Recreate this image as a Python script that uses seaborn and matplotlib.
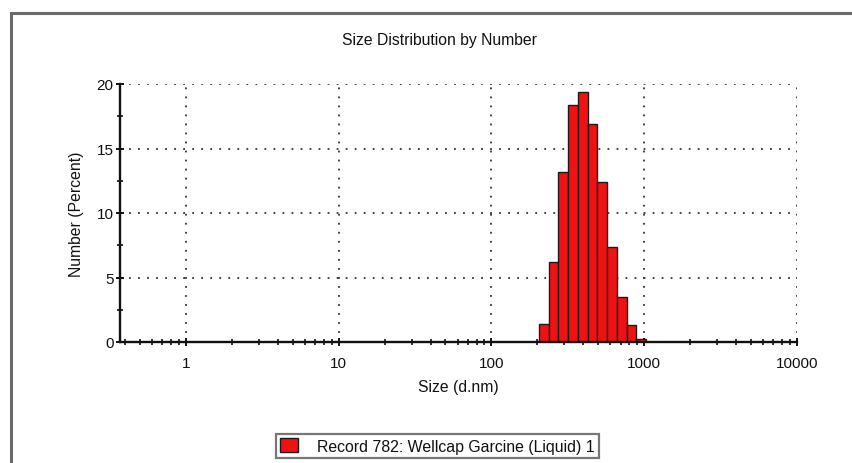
import numpy as np
import pandas as pd
import matplotlib
matplotlib.use("Agg")
import matplotlib.pyplot as plt
from matplotlib.patches import Rectangle
from matplotlib.ticker import FixedLocator, NullFormatter, MultipleLocator
import seaborn as sns

# Size classes (bin centres, d.nm) and number distribution (%)
sizes = [220.2, 255.0, 295.3, 342.0, 396.1, 458.7, 531.2, 615.1, 712.4, 825.0, 955.4]
percent = [1.4, 6.2, 13.2, 18.4, 19.4, 16.9, 12.4, 7.4, 3.5, 1.3, 0.2]
x_ticks = [1, 10, 100, 1000, 10000]
x_tick_labels = ["1", "10", "100", "1000", "10000"]
y_ticks = [0, 5, 10, 15, 20]
record_label = "Record 782: Wellcap Garcine (Liquid) 1"

df = pd.DataFrame({"size": sizes, "percent": percent})

sns.set_theme(style="white")
plt.rcParams["font.family"] = ["Liberation Sans", "DejaVu Sans"]

W, H = 853, 464
x0, x1, y_top, y_bot = 120, 797, 85, 343

fig = plt.figure(figsize=(W / 100, H / 100), dpi=100)
fig.patch.set_facecolor("white")
ax = fig.add_axes([x0 / W, 1 - y_bot / H, (x1 - x0) / W, (y_bot - y_top) / H])

# log-spaced bin edges: geometric midpoints between neighbouring centres
logc = np.log10(df["size"].to_numpy())
step = float(np.diff(logc).mean())
edges = [float(v) for v in (logc - step / 2)] + [float(logc[-1] + step / 2)]

sns.histplot(data=df, x="size", weights="percent", bins=edges, log_scale=True,
             stat="count", color="#f01212", alpha=1.0, edgecolor="#1a1a1a",
             linewidth=1.0, label=record_label, ax=ax)

ax.set_xlim(0.37, 10000)
ax.set_ylim(0, 20)

# axes styling
for side in ("top", "right"):
    ax.spines[side].set_visible(False)
for side in ("left", "bottom"):
    ax.spines[side].set_color("#111111")
    ax.spines[side].set_linewidth(1.7)

ax.xaxis.set_major_locator(FixedLocator(x_ticks))
ax.set_xticklabels(x_tick_labels)
minor = [m * 10.0 ** d for d in range(-1, 4) for m in range(2, 10)]
minor = [v for v in minor if 0.37 <= v <= 10000]
ax.xaxis.set_minor_locator(FixedLocator(minor))
ax.xaxis.set_minor_formatter(NullFormatter())
ax.set_yticks(y_ticks)
ax.yaxis.set_minor_locator(MultipleLocator(2.5))

ax.tick_params(axis="both", which="major", direction="inout", length=6, width=1.4,
               color="#111111", labelsize=11, labelcolor="#111111",
               bottom=True, left=True)
ax.tick_params(axis="x", which="major", pad=7)
ax.tick_params(axis="y", which="major", pad=1.5)
ax.tick_params(axis="both", which="minor", direction="inout", length=5, width=1.2,
               color="#111111", bottom=True, left=True)

# dotted grid at decades and every 5 %
for xv in x_ticks:
    ax.axvline(xv, color="#333333", linestyle=(0, (1, 4)), linewidth=1.3, zorder=0)
for yv in y_ticks[1:]:
    ax.axhline(yv, color="#333333", linestyle=(0, (1, 4)), linewidth=1.3, zorder=0)

ax.set_xlabel("Size (d.nm)", fontsize=11.3, color="#111111")
ax.set_ylabel("Number (Percent)", fontsize=11.3, color="#111111")
ax.xaxis.set_label_coords(0.5, -(380 - y_bot) / (y_bot - y_top))
ax.yaxis.set_label_coords(-(x0 - 84) / (x1 - x0), 0.5)

fig.text(439 / W, 1 - 40 / H, "Size Distribution by Number", ha="center", va="center",
         fontsize=11.3, color="#111111")

leg = ax.legend(loc="center", bbox_to_anchor=(437.5 / W, 1 - 447 / H),
                bbox_transform=fig.transFigure, fontsize=11.4, frameon=True,
                fancybox=False, handlelength=1.15, handleheight=1.0,
                borderpad=0.25, handletextpad=1.2, borderaxespad=0)
leg.get_frame().set_edgecolor("#555555")
leg.get_frame().set_linewidth(1.6)
for t in leg.get_texts():
    t.set_color("#111111")

# outer panel border
fig.patches.append(Rectangle((11 / W, -0.05), 1.1, 1 - 14 / H + 0.05,
                             transform=fig.transFigure, fill=False,
                             edgecolor="#6a6a6a", linewidth=2.2, clip_on=False))

fig.savefig("out.png", dpi=100, facecolor="white")
